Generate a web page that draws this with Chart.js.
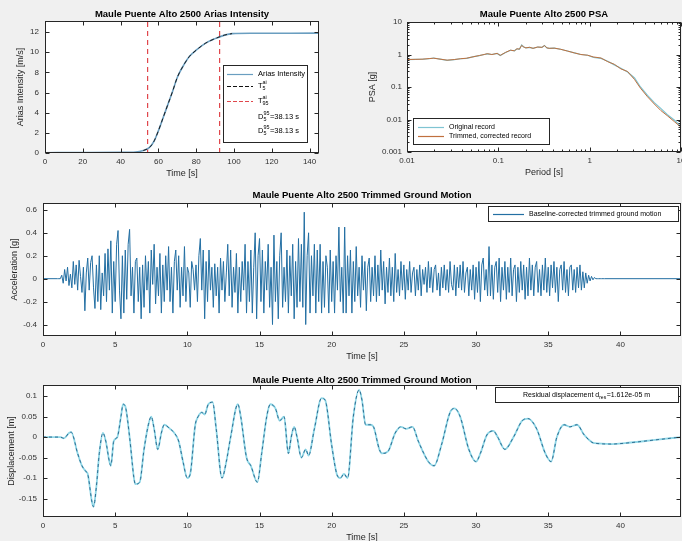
<!DOCTYPE html>
<html>
<head>
<meta charset="utf-8">
<script src="https://cdn.jsdelivr.net/npm/chart.js@4.4.1/dist/chart.umd.min.js"></script>
<style>
body { margin: 0; background: #f0f0f0; }
#fig { position: relative; width: 682px; height: 541px; overflow: hidden; background: #f0f0f0; }
canvas { position: absolute; }
</style>
</head>
<body>
<div id="fig">
  <canvas id="arias" width="335" height="182" style="left:0;top:0;width:335px;height:182px"></canvas>
  <canvas id="psa" width="350" height="182" style="left:345px;top:0;width:350px;height:182px"></canvas>
  <canvas id="acc" width="700" height="180" style="left:0;top:185px;width:700px;height:180px"></canvas>
  <canvas id="disp" width="700" height="176" style="left:0;top:365px;width:700px;height:176px"></canvas>
</div>
<script>
var FONT = '"Liberation Sans", Arial, Helvetica, sans-serif';
Chart.defaults.font.family = FONT;
Chart.defaults.font.size = 8;
Chart.defaults.color = '#262626';

// Arias intensity
var ariasTime = [0, 20, 40, 48, 52, 55, 57.5, 60, 62.5, 65, 67.5, 70, 73, 76.5, 80, 85, 90, 95, 99, 110, 145];
var ariasValue = [0.03, 0.04, 0.06, 0.1, 0.25, 0.5, 1.1, 2.2, 3.5, 4.8, 6.1, 7.5, 8.6, 9.6, 10.2, 10.9, 11.35, 11.7, 11.85, 11.88, 11.9];
var t5 = 54.3;
var t95 = 92.4;
var ariasXTicks = [0, 20, 40, 60, 80, 100, 120, 140];
var ariasYTicks = [0, 2, 4, 6, 8, 10, 12];

// Response spectra
var periods = [0.01, 0.0125, 0.015, 0.0175, 0.0196, 0.023, 0.0275, 0.033, 0.0385, 0.045,
  0.054, 0.062, 0.07, 0.0757, 0.085, 0.097, 0.105, 0.12, 0.136, 0.15,
  0.16, 0.17, 0.18, 0.19, 0.2, 0.22, 0.24, 0.27, 0.3, 0.32,
  0.34, 0.36, 0.41, 0.48, 0.57, 0.68, 0.8, 0.95, 1.1, 1.33,
  1.58, 1.86, 2.2, 2.6, 3.1, 3.6, 4.3, 5.1, 6.0, 7.1, 8.5, 10];
var psaOriginal = [0.70, 0.71, 0.72, 0.74, 0.78, 0.72, 0.66, 0.70, 0.74, 0.76,
  0.86, 0.92, 1.0, 1.05, 1.0, 1.08, 0.93, 1.15, 1.35, 1.3,
  1.5, 1.45, 1.95, 1.7, 1.6, 1.65, 1.55, 1.7, 1.65, 1.9,
  1.6, 1.55, 1.58, 1.45, 1.28, 1.12, 1.0, 0.95, 0.82, 0.76,
  0.62, 0.48, 0.38, 0.29, 0.19, 0.1, 0.055, 0.033, 0.022, 0.014, 0.0095, 0.0062];
var psaTrimmed = [0.70, 0.71, 0.72, 0.75, 0.77, 0.72, 0.67, 0.70, 0.74, 0.77,
  0.86, 0.93, 1.0, 1.06, 1.0, 1.08, 0.94, 1.16, 1.36, 1.3,
  1.5, 1.46, 1.9, 1.7, 1.6, 1.66, 1.55, 1.7, 1.66, 1.88,
  1.6, 1.55, 1.57, 1.45, 1.28, 1.12, 1.0, 0.95, 0.84, 0.78,
  0.6, 0.5, 0.36, 0.3, 0.17, 0.092, 0.05, 0.03, 0.019, 0.013, 0.0085, 0.0058];
var psaXTicks = [0.01, 0.1, 1, 10];
var psaXLabels = ['0.01', '0.1', '1', '10'];
var psaYTicks = [0.001, 0.01, 0.1, 1, 10];
var psaYLabels = ['0.001', '0.01', '0.1', '1', '10'];

// Trimmed acceleration, one row per second from t = 1.0 s
var accStart = 1.0;
var accStep = 0.1;
var accEnd = 44.2;
var accValues = [
  0, 0, 0, 0.03, -0.04, 0.08, -0.02, 0.1, -0.06, 0.04,
  -0.08, 0.15, -0.05, 0.12, -0.1, 0.16, 0.02, -0.12, 0.1, -0.28,
  0.05, 0.18, -0.1, 0.14, 0.2, -0.08, -0.26, 0.12, -0.2, 0.2,
  -0.27, 0.05, -0.15, 0.22, -0.2, 0.26, -0.1, 0.33, -0.3, 0.15,
  -0.2, 0.3, 0.42, -0.1, -0.35, 0.2, -0.3, 0.25, -0.18, 0.3,
  0.43, -0.15, 0.1, -0.3, 0.15, 0.18, -0.2, 0.1, -0.35, 0.12,
  -0.25, 0.2, -0.1, 0.15, -0.3, 0.25, -0.05, 0.3, -0.22, 0.1,
  -0.15, 0.22, -0.3, 0.12, -0.2, 0.2, -0.1, 0.28, -0.2, 0.1,
  -0.3, 0.15, 0.25, -0.1, 0.2, -0.25, 0.1, -0.15, 0.28, -0.2,
  0.1, 0.05, -0.25, 0.15, 0.08, -0.1, 0.12, -0.2, 0.2, 0.35,
  -0.1, 0.25, -0.35, 0.15, -0.2, 0.25, -0.1, 0.1, -0.25, 0.13,
  -0.15, 0.1, -0.3, 0.18, -0.1, 0.15, -0.2, 0.05, 0.3, -0.15,
  0.25, -0.25, 0.1, -0.12, 0.22, -0.3, 0.1, -0.2, 0.15, -0.1,
  0.3, -0.3, 0.15, -0.2, 0.25, -0.3, 0.1, 0.4, -0.35, 0.2,
  0.35, -0.2, 0.25, -0.3, 0.15, -0.1, 0.3, -0.25, 0.1, -0.4,
  0.38, -0.2, 0.15, -0.35, 0.2, 0.4, -0.25, 0.1, -0.2, 0.25,
  -0.3, 0.2, -0.15, 0.3, -0.35, 0.15, -0.25, 0.35, -0.2, 0.3,
  -0.25, 0.58, -0.4, 0.2, 0.4, -0.3, 0.2, -0.15, 0.3, -0.3,
  0.25, -0.2, 0.3, -0.3, 0.15, -0.25, 0.2, 0.1, -0.3, 0.25,
  -0.2, 0.15, -0.3, 0.2, -0.1, 0.45, -0.2, 0.1, -0.3, 0.45,
  -0.3, 0.2, -0.15, 0.25, -0.3, 0.15, -0.2, 0.28, -0.15, 0.1,
  -0.25, 0.2, -0.1, 0.15, -0.28, 0.1, 0.18, -0.2, 0.1, -0.15,
  0.2, -0.2, 0.12, -0.15, 0.25, -0.1, 0.15, -0.22, 0.1, -0.12,
  0.18, -0.15, 0.1, -0.2, 0.22, -0.12, 0.08, -0.15, 0.15, -0.1,
  0.12, -0.18, 0.08, -0.1, 0.15, -0.12, 0.05, 0.1, -0.15, 0.08,
  -0.1, 0.12, -0.15, 0.08, -0.05, 0.1, -0.12, 0.15, -0.08, 0.1,
  -0.12, 0.08, 0.12, -0.1, 0.05, -0.15, 0.1, -0.08, 0.12, -0.1,
  0.08, -0.12, 0.15, -0.05, -0.1, 0.12, -0.15, 0.1, -0.08, 0.12,
  -0.1, 0.15, -0.12, 0.05, 0.1, -0.15, 0.08, -0.1, 0.12, -0.18,
  0.1, -0.12, 0.15, -0.2, 0.12, 0.18, -0.1, 0.08, -0.15, 0.28,
  -0.15, 0.12, -0.18, 0.1, 0.15, -0.12, 0.18, -0.2, 0.1, -0.1,
  0.15, -0.18, 0.1, -0.12, 0.18, -0.15, 0.08, 0.12, -0.2, 0.1,
  -0.12, 0.15, -0.1, 0.12, -0.18, 0.1, -0.15, 0.18, -0.1, 0.12,
  -0.15, 0.1, 0.15, -0.12, 0.08, -0.15, 0.12, -0.1, 0.18, -0.12,
  0.1, -0.15, 0.12, -0.08, 0.15, -0.12, 0.1, -0.2, 0.08, 0.12,
  -0.1, 0.15, -0.12, 0.08, -0.15, 0.1, 0.12, -0.1, 0.08, -0.12,
  0.1, -0.08, 0.12, -0.1, 0.06, -0.08, 0.05, -0.04, 0.03, -0.02,
  0.02, -0.01, 0.01, 0, 0, 0, 0, 0, 0, 0
];
var timeXTicks = [0, 5, 10, 15, 20, 25, 30, 35, 40];
var accYTicks = [-0.4, -0.2, 0, 0.2, 0.4, 0.6];
var accYLabels = ['-0.4', '-0.2', '0', '0.2', '0.4', '0.6'];

// Displacement
var dispTime = [0, 1.2, 1.45, 1.8, 1.95, 2.4, 2.7, 3.0, 3.1, 3.4,
  3.5, 3.7, 3.9, 4.15, 4.35, 4.6, 4.7, 4.9, 5.15, 5.4,
  5.55, 5.7, 6.0, 6.3, 6.4, 6.7, 7.0, 7.3, 7.5, 7.7,
  7.95, 8.2, 8.4, 8.8, 9.1, 9.4, 9.7, 10.0, 10.2, 10.55,
  10.75, 11.0, 11.2, 11.45, 11.75, 12.0, 12.4, 12.7, 13.0, 13.5,
  13.7, 14.1, 14.4, 14.85, 15.15, 15.5, 15.75, 16.1, 16.4, 16.7,
  17.0, 17.2, 17.4, 17.6, 17.9, 18.2, 18.4, 18.8, 19.3, 19.55,
  20.0, 20.35, 20.6, 20.85, 21.1, 21.5, 21.9, 22.1, 22.35, 22.7,
  22.9, 23.3, 23.5, 23.9, 24.4, 24.8, 25.15, 25.6, 26.0, 26.7,
  27.1, 27.6, 28.2, 28.5, 28.9, 29.5, 30.0, 30.3, 30.75, 31.2,
  31.5, 32.0, 32.6, 33.2, 33.6, 34.2, 34.8, 35.2, 35.6, 36.1,
  36.5, 37.0, 37.5, 38.2, 39.4, 40.3, 42.4, 44.2];
var dispValue = [0, 0, -0.003, 0.01, 0.012, -0.04, -0.07, -0.085, -0.09, -0.16,
  -0.17, -0.12, -0.04, 0.01, -0.01, -0.06, -0.07, -0.01, 0.0, 0.05,
  0.08, 0.075, 0.0, -0.1, -0.115, -0.11, -0.03, 0.03, 0.05, 0.02,
  -0.03, 0.01, 0.03, 0.02, 0.01, -0.01, -0.06, -0.1, -0.09, 0.03,
  0.05, 0.06, 0.055, 0.08, 0.085, 0.02, -0.1, -0.06, 0.0, 0.08,
  0.05, -0.05, -0.07, -0.11, -0.04, 0.05, 0.08, 0.07, 0.04, 0.05,
  -0.04, 0.0, 0.025, 0.0, -0.05, -0.03, -0.045, 0.02, 0.095, 0.09,
  -0.02, -0.09, -0.1, -0.09, -0.1, 0.05, 0.115, 0.09, 0.03, 0.03,
  0.025, -0.03, -0.04, -0.035, 0.01, 0.025, 0.02, 0.025, -0.01, -0.06,
  -0.07, -0.02, 0.06, 0.07, 0.05, -0.03, -0.06, -0.04, 0.005, 0.015,
  0.0, -0.03, 0.0, 0.04, 0.045, 0.02, -0.04, -0.06, 0.0, 0.03,
  0.025, 0.03, 0.005, -0.015, -0.017, -0.015, -0.007, 0.0];
var dispYTicks = [-0.15, -0.1, -0.05, 0, 0.05, 0.1];
var dispYLabels = ['-0.15', '-0.1', '-0.05', '0', '0.05', '0.1'];

function pairs(xs, ys) {
  var out = [];
  for (var i = 0; i < xs.length; i++) out.push({ x: xs[i], y: ys[i] });
  return out;
}

function numLabels(ticks) {
  return ticks.map(function (v) { return String(v); });
}

// axis helper: ticks come from the named arrays above
function scale(o) {
  return {
    type: o.type || 'linear',
    min: o.min,
    max: o.max,
    grid: { display: false, drawTicks: false },
    border: { display: false },
    ticks: {
      autoSkip: false,
      maxRotation: 0,
      padding: o.tickPad,
      font: { size: 8 },
      color: '#303030',
      callback: function (v, i) { return o.labels[i]; }
    },
    afterBuildTicks: function (s) {
      s.ticks = o.ticks.map(function (v) { return { value: v }; });
    },
    afterFit: function (s) {
      if (o.horizontal) s.height = o.fit; else s.width = o.fit;
    },
    title: { display: true, text: o.title, font: { size: 9 }, color: '#262626', padding: o.titlePad }
  };
}

function drawRich(c, it, x, y, size, measureOnly) {
  var start = x;
  c.font = size + 'px ' + FONT;
  if (!measureOnly) c.fillText(it.text, x, y);
  x += c.measureText(it.text).width;
  if (it.sub || it.sup) {
    c.font = (size * 0.72) + 'px ' + FONT;
    var w = 0;
    if (it.sup) { if (!measureOnly) c.fillText(it.sup, x, y - 3); w = Math.max(w, c.measureText(it.sup).width); }
    if (it.sub) { if (!measureOnly) c.fillText(it.sub, x, y + 3); w = Math.max(w, c.measureText(it.sub).width); }
    x += w + 0.5;
    c.font = size + 'px ' + FONT;
  }
  if (it.after) {
    if (!measureOnly) c.fillText(it.after, x, y);
    x += c.measureText(it.after).width;
  }
  return x - start;
}

// white axes, box with inward ticks, title and legend
function frame(cfg) {
  return {
    id: 'frame',
    beforeDraw: function (chart) {
      var a = chart.chartArea, c = chart.ctx;
      c.save();
      c.fillStyle = '#ffffff';
      c.fillRect(a.left, a.top, a.right - a.left, a.bottom - a.top);
      c.restore();
    },
    afterDraw: function (chart) {
      var a = chart.chartArea, c = chart.ctx;
      var xs = chart.scales.x, ys = chart.scales.y;
      var L = Math.round(a.left) + 0.5, R = Math.round(a.right) - 0.5;
      var T = Math.round(a.top) + 0.5, B = Math.round(a.bottom) - 0.5;
      c.save();
      c.strokeStyle = '#262626';
      c.lineWidth = 1;
      c.beginPath();
      function xt(v, len) {
        var p = Math.round(xs.getPixelForValue(v)) + 0.5;
        c.moveTo(p, B); c.lineTo(p, B - len);
        c.moveTo(p, T); c.lineTo(p, T + len);
      }
      function yt(v, len) {
        var p = Math.round(ys.getPixelForValue(v)) + 0.5;
        c.moveTo(L, p); c.lineTo(L + len, p);
        c.moveTo(R, p); c.lineTo(R - len, p);
      }
      xs.ticks.forEach(function (t) { xt(t.value, 4); });
      ys.ticks.forEach(function (t) { yt(t.value, 4); });
      if (cfg.logMinor) {
        [[xs, xt], [ys, yt]].forEach(function (p) {
          for (var d = p[0].min; d < p[0].max * 0.999; d *= 10) {
            for (var k = 2; k <= 9; k++) p[1](d * k, 2);
          }
        });
      }
      c.stroke();
      c.strokeRect(L, T, R - L, B - T);

      c.fillStyle = '#000000';
      c.font = 'bold 9.5px ' + FONT;
      c.textAlign = 'center';
      c.textBaseline = 'middle';
      c.fillText(cfg.title, (a.left + a.right) / 2, cfg.titleY);

      var lg = cfg.legend;
      if (lg) {
        var b = lg.box;
        c.fillStyle = '#ffffff';
        c.fillRect(b[0], b[1], b[2] - b[0], b[3] - b[1]);
        c.strokeStyle = '#262626';
        c.strokeRect(b[0] + 0.5, b[1] + 0.5, b[2] - b[0], b[3] - b[1]);
        c.textAlign = 'left';
        lg.items.forEach(function (it) {
          if (it.color) {
            c.strokeStyle = it.color;
            c.lineWidth = 1.2;
            c.setLineDash(it.dash || []);
            c.beginPath();
            c.moveTo(lg.line[0], it.y + 0.5);
            c.lineTo(lg.line[1], it.y + 0.5);
            c.stroke();
            c.setLineDash([]);
          }
          c.fillStyle = '#000000';
          var x = lg.textX;
          if (lg.center) {
            var w = drawRich(c, it, 0, it.y, lg.size, true);
            x = (b[0] + b[2]) / 2 - w / 2;
          }
          drawRich(c, it, x, it.y, lg.size, false);
        });
      }
      c.restore();
    }
  };
}

function lineSet(data, color, width, dash, smooth) {
  return {
    data: data,
    borderColor: color,
    borderWidth: width,
    borderDash: dash || [],
    pointRadius: 0,
    fill: false,
    tension: 0,
    cubicInterpolationMode: smooth ? 'monotone' : 'default'
  };
}

function baseOptions(padding, xScale, yScale) {
  return {
    responsive: false,
    animation: false,
    devicePixelRatio: 1,
    layout: { padding: padding },
    plugins: { legend: { display: false }, title: { display: false }, tooltip: { enabled: false } },
    scales: { x: xScale, y: yScale }
  };
}

// ---- Arias intensity ----
var ariasYMax = 13.1;
var ariasTrimT = [], ariasTrimV = [];
for (var i = 0; i < ariasTime.length; i++) {
  if (ariasTime[i] >= 50 && ariasTime[i] <= 100) { ariasTrimT.push(ariasTime[i]); ariasTrimV.push(ariasValue[i]); }
}
new Chart(document.getElementById('arias'), {
  type: 'line',
  data: {
    datasets: [
      lineSet(pairs(ariasTrimT, ariasTrimV), '#1a1a1a', 1, [4, 3], true),
      lineSet(pairs(ariasTime, ariasValue), '#6a9ec0', 1.6, null, true),
      lineSet(pairs([t5, t5], [0, ariasYMax]), '#e0474c', 1.2, [5, 4]),
      lineSet(pairs([t95, t95], [0, ariasYMax]), '#e0474c', 1.2, [5, 4])
    ]
  },
  options: baseOptions({ left: 0, top: 21, right: 16, bottom: 0 },
    scale({ min: 0, max: 145, ticks: ariasXTicks, labels: numLabels(ariasXTicks), horizontal: true, fit: 29, tickPad: 4, title: 'Time [s]', titlePad: { top: 0, bottom: 3 } }),
    scale({ min: 0, max: ariasYMax, ticks: ariasYTicks, labels: numLabels(ariasYTicks), fit: 45, tickPad: 6, title: 'Arias Intensity [m/s]', titlePad: { top: 15, bottom: 0 } })),
  plugins: [frame({
    title: 'Maule Puente Alto 2500 Arias Intensity', titleY: 14,
    legend: {
      box: [223, 65, 307, 142], line: [227, 253], textX: 258, size: 7.5,
      items: [
        { y: 74, color: '#6a9ec0', text: 'Arias Intensity' },
        { y: 86, color: '#111111', dash: [4, 2], text: 'T', sub: '5', sup: 'ai' },
        { y: 101, color: '#e0474c', dash: [4, 2], text: 'T', sub: '95', sup: 'ai' },
        { y: 117, text: 'D', sub: '5', sup: '95', after: '=38.13 s' },
        { y: 131, text: 'D', sub: '5', sup: '95', after: '=38.13 s' }
      ]
    }
  })]
});

// ---- PSA ----
new Chart(document.getElementById('psa'), {
  type: 'line',
  data: {
    datasets: [
      lineSet(pairs(periods, psaTrimmed), '#c0703e', 1),
      lineSet(pairs(periods, psaOriginal), '#7fc4d2', 1.2)
    ]
  },
  options: baseOptions({ left: 0, top: 22, right: 14, bottom: 0 },
    scale({ type: 'logarithmic', min: 0.01, max: 10, ticks: psaXTicks, labels: psaXLabels, horizontal: true, fit: 30, tickPad: 4, title: 'Period [s]', titlePad: { top: 0, bottom: 4 } }),
    scale({ type: 'logarithmic', min: 0.001, max: 10, ticks: psaYTicks, labels: psaYLabels, fit: 62, tickPad: 5, title: 'PSA [g]', titlePad: { top: 22, bottom: 0 } })),
  plugins: [frame({
    title: 'Maule Puente Alto 2500 PSA', titleY: 14, logMinor: true,
    legend: {
      box: [68, 118, 204, 144], line: [73, 99], textX: 104, size: 7,
      items: [
        { y: 127, color: '#7fc4d2', text: 'Original record' },
        { y: 136, color: '#c0703e', text: 'Trimmed, corrected record' }
      ]
    }
  })]
});

// ---- Acceleration ----
var accData = [{ x: 0, y: 0 }];
for (var j = 0; j < accValues.length; j++) {
  accData.push({ x: Math.round((accStart + j * accStep) * 100) / 100, y: accValues[j] });
}
accData.push({ x: accEnd, y: 0 });
new Chart(document.getElementById('acc'), {
  type: 'line',
  data: { datasets: [lineSet(accData, '#236fa3', 1)] },
  options: baseOptions({ left: 0, top: 18, right: 19, bottom: 0 },
    scale({ min: 0, max: accEnd, ticks: timeXTicks, labels: numLabels(timeXTicks), horizontal: true, fit: 29, tickPad: 4, title: 'Time [s]', titlePad: { top: 0, bottom: 3 } }),
    scale({ min: -0.5, max: 0.66, ticks: accYTicks, labels: accYLabels, fit: 43, tickPad: 6, title: 'Acceleration [g]', titlePad: { top: 9, bottom: 0 } })),
  plugins: [frame({
    title: 'Maule Puente Alto 2500 Trimmed Ground Motion', titleY: 10,
    legend: {
      box: [488, 21, 678, 36], line: [493, 524], textX: 529, size: 7,
      items: [{ y: 29, color: '#236fa3', text: 'Baseline-corrected trimmed ground motion' }]
    }
  })]
});

// ---- Displacement ----
new Chart(document.getElementById('disp'), {
  type: 'line',
  data: {
    datasets: [
      lineSet(pairs(dispTime, dispValue), '#2d6d92', 1, [3, 3], true),
      lineSet(pairs(dispTime, dispValue), '#8fd6e6', 1.8, null, true)
    ]
  },
  options: baseOptions({ left: 0, top: 20, right: 19, bottom: 0 },
    scale({ min: 0, max: accEnd, ticks: timeXTicks, labels: numLabels(timeXTicks), horizontal: true, fit: 24, tickPad: 4, title: 'Time [s]', titlePad: { top: 0, bottom: -2 } }),
    scale({ min: -0.195, max: 0.127, ticks: dispYTicks, labels: dispYLabels, fit: 43, tickPad: 6, title: 'Displacement [m]', titlePad: { top: 6, bottom: 0 } })),
  plugins: [frame({
    title: 'Maule Puente Alto 2500 Trimmed Ground Motion', titleY: 15,
    legend: {
      box: [495, 22, 678, 37], center: true, size: 7,
      items: [{ y: 30, text: 'Residual displacement d', sub: 'res', after: '=1.612e-05 m' }]
    }
  })]
});
</script>
</body>
</html>
